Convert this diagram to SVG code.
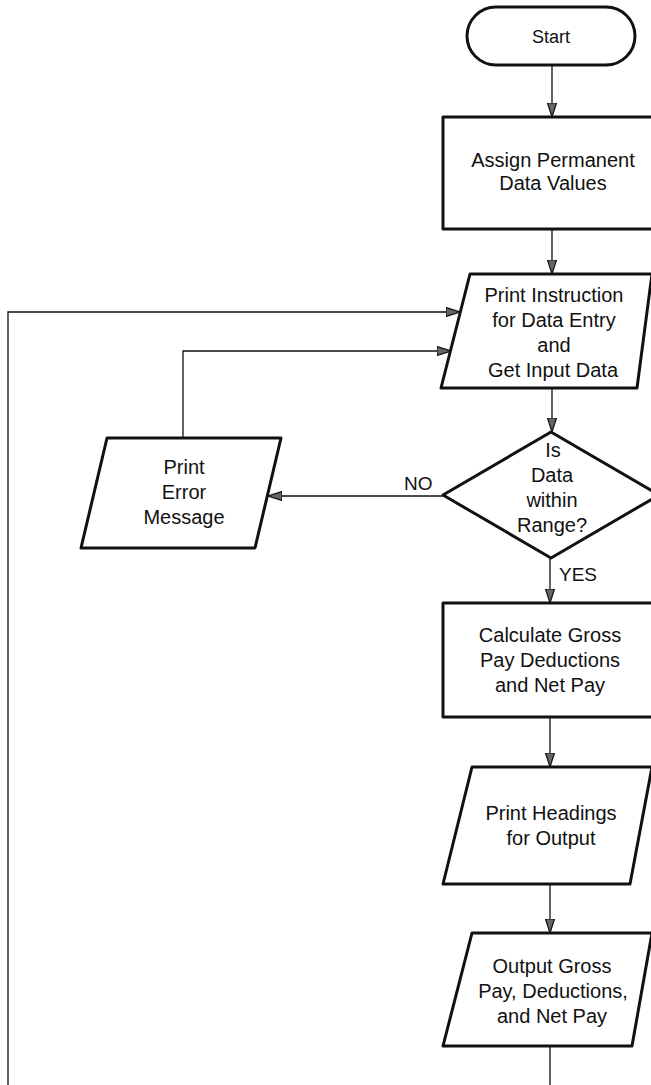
<svg xmlns="http://www.w3.org/2000/svg" width="651" height="1085" viewBox="0 0 651 1085">
  <style>
    .shape { fill: #fff; stroke: #111; stroke-width: 3; stroke-linejoin: round; }
    .conn { fill: none; stroke: #111; stroke-width: 1.3; }
    .lbl { font-family: "Liberation Sans", Arial, sans-serif; font-size: 20px; fill: #111; text-anchor: middle; }
    .tag { font-family: "Liberation Sans", Arial, sans-serif; font-size: 19px; fill: #111; }
  </style>
  <defs>
    <marker id="arrow" viewBox="0 0 14 10" refX="14" refY="5" markerWidth="14" markerHeight="10" markerUnits="userSpaceOnUse" orient="auto">
      <path d="M0,0.5 L14,5 L0,9.5 Z" fill="#666" stroke="#111" stroke-width="1.2" stroke-linejoin="round"/>
    </marker>
  </defs>

  <rect width="651" height="1085" fill="#fff"/>

  <!-- connectors -->
  <g id="connectors">
    <line class="conn" x1="552" y1="65" x2="552" y2="117" marker-end="url(#arrow)"/>
    <line class="conn" x1="552" y1="229" x2="552" y2="274" marker-end="url(#arrow)"/>
    <line class="conn" x1="552" y1="388" x2="552" y2="432" marker-end="url(#arrow)"/>
    <line class="conn" x1="443" y1="496" x2="268" y2="496" marker-end="url(#arrow)"/>
    <polyline class="conn" points="183,438 183,351 451,351" marker-end="url(#arrow)"/>
    <polyline class="conn" points="8,1085 8,312 460,312" marker-end="url(#arrow)"/>
    <line class="conn" x1="550" y1="558" x2="550" y2="603" marker-end="url(#arrow)"/>
    <line class="conn" x1="550" y1="717" x2="550" y2="767" marker-end="url(#arrow)"/>
    <line class="conn" x1="550" y1="884" x2="550" y2="933" marker-end="url(#arrow)"/>
    <line class="conn" x1="550" y1="1046" x2="550" y2="1085"/>
    <text class="tag" x="404" y="490">NO</text>
    <text class="tag" x="559" y="581">YES</text>
  </g>

  <!-- start terminal -->
  <g id="start">
    <rect class="shape" x="467" y="7" width="168" height="58" rx="29" ry="29"/>
    <text class="lbl" x="551" y="43" style="font-size:18px">Start</text>
  </g>

  <!-- assign permanent data values -->
  <g id="assign">
    <rect class="shape" x="443" y="117" width="230" height="112"/>
    <text class="lbl" x="553" y="167">Assign Permanent</text>
    <text class="lbl" x="553" y="190">Data Values</text>
  </g>

  <!-- print instruction / get input -->
  <g id="input">
    <polygon class="shape" points="470,274 652,274 637,388 441,388"/>
    <text class="lbl" x="554" y="302">Print Instruction</text>
    <text class="lbl" x="554" y="327">for Data Entry</text>
    <text class="lbl" x="554" y="352">and</text>
    <text class="lbl" x="553" y="377">Get Input Data</text>
  </g>

  <!-- range check decision -->
  <g id="decision">
    <polygon class="shape" points="551,432 659,495 551,558 443,495"/>
    <text class="lbl" x="553" y="457">Is</text>
    <text class="lbl" x="552" y="482">Data</text>
    <text class="lbl" x="552" y="507">within</text>
    <text class="lbl" x="552" y="532">Range?</text>
  </g>

  <!-- error message -->
  <g id="error">
    <polygon class="shape" points="107,438 281,438 255,548 81,548"/>
    <text class="lbl" x="184" y="474">Print</text>
    <text class="lbl" x="184" y="499">Error</text>
    <text class="lbl" x="184" y="524">Message</text>
  </g>

  <!-- calculation -->
  <g id="calculate">
    <rect class="shape" x="443" y="603" width="230" height="114"/>
    <text class="lbl" x="550" y="642">Calculate Gross</text>
    <text class="lbl" x="550" y="667">Pay Deductions</text>
    <text class="lbl" x="550" y="692">and Net Pay</text>
  </g>

  <!-- headings -->
  <g id="headings">
    <polygon class="shape" points="472,767 652,767 630,884 443,884"/>
    <text class="lbl" x="551" y="820">Print Headings</text>
    <text class="lbl" x="551" y="845">for Output</text>
  </g>

  <!-- output -->
  <g id="output">
    <polygon class="shape" points="472,933 652,933 632,1046 443,1046"/>
    <text class="lbl" x="552" y="973">Output Gross</text>
    <text class="lbl" x="553" y="998">Pay, Deductions,</text>
    <text class="lbl" x="552" y="1023">and Net Pay</text>
  </g>
</svg>
